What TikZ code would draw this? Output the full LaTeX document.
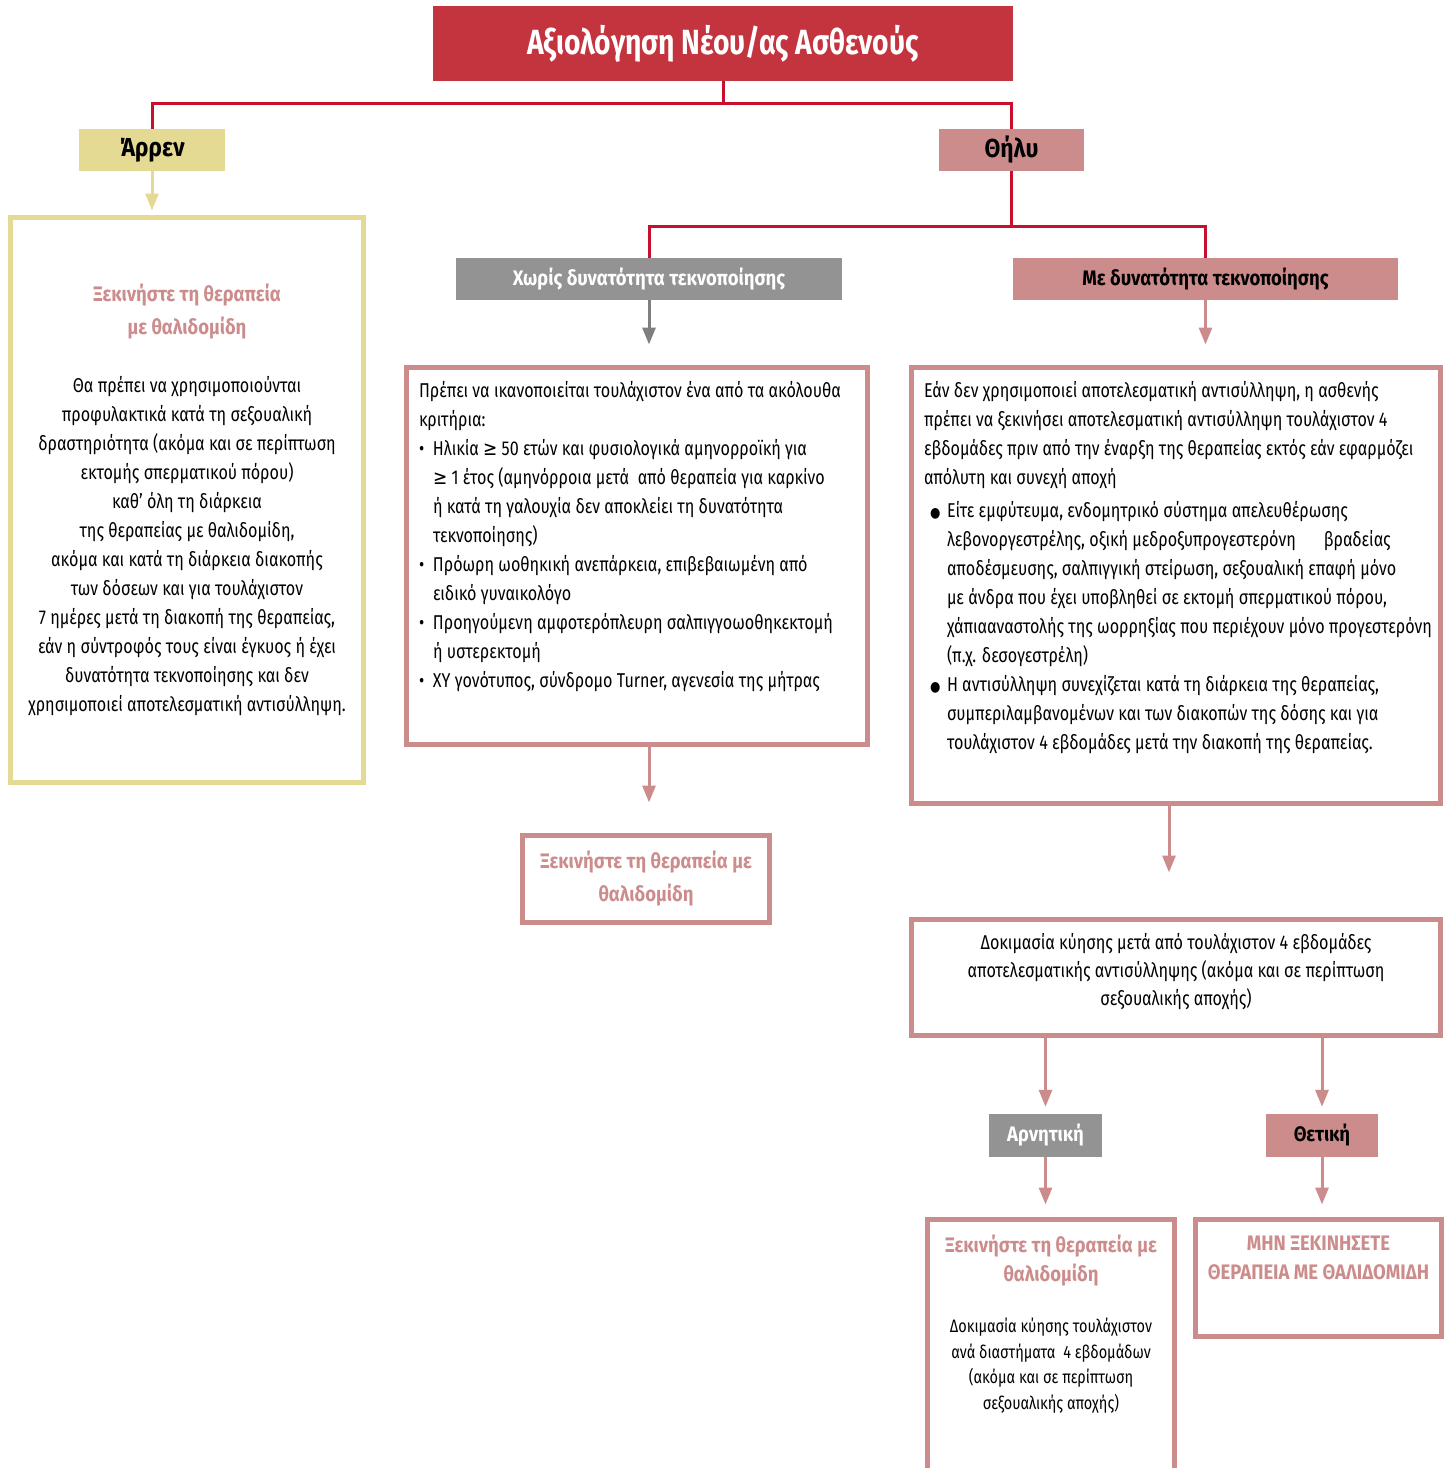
\documentclass[tikz,border=0pt]{standalone}
\usepackage{fontspec}
\setmainfont{Fira Sans}[FakeStretch=0.806]
\newfontfamily\boldwide{Fira Sans}[FakeStretch=0.88]
\newfontfamily\symfont{DejaVu Sans}[FakeStretch=0.85]
\usetikzlibrary{arrows.meta}
\definecolor{titlered}{HTML}{C4343F}
\definecolor{linkred}{HTML}{C8102E}
\definecolor{khaki}{HTML}{E4DA94}
\definecolor{rose}{HTML}{CD8C8C}
\definecolor{midgray}{HTML}{939393}
\definecolor{arrgray}{HTML}{7F7F7F}
\newcommand{\bodyfont}{\fontsize{20}{29}\selectfont}
\newcommand{\smallbody}{\fontsize{18}{25.5}\selectfont}
\newcommand{\headfont}{\color{rose}\boldwide\bfseries\fontsize{21}{33}\selectfont}
\tikzset{
  bar/.style={inner sep=0pt, minimum height=42pt, font=\boldwide\bfseries\fontsize{21}{26}\selectfont},
  frame/.style={draw=rose, line width=5pt, inner sep=0pt},
  link/.style={draw=linkred, line width=3pt},
  arr/.style={line width=3pt, -{Triangle[width=13pt,length=17pt]}}
}
\begin{document}
\begin{tikzpicture}[x=1pt,y=-1pt]
\useasboundingbox (0,0) rectangle (1452,1468);
\node[bar, fill=titlered, text=white, minimum width=580pt, minimum height=75pt, font=\bfseries\fontsize{35}{40}\selectfont] (title) at (723,43.5) {Αξιολόγηση Νέου/ας Ασθενούς};
\node[bar, fill=khaki, minimum width=146pt, font=\boldwide\bfseries\fontsize{26}{30}\selectfont] (male) at (152,150) {Άρρεν};
\node[bar, fill=rose, minimum width=145pt, font=\boldwide\bfseries\fontsize{26}{30}\selectfont] (female) at (1011.5,150) {Θήλυ};
\node[bar, fill=midgray, text=white, minimum width=386pt] (nofert) at (649,279) {Χωρίς δυνατότητα τεκνοποίησης};
\node[bar, fill=rose, minimum width=385pt] (fert) at (1205.5,279) {Με δυνατότητα τεκνοποίησης};
\node[frame, draw=khaki, minimum width=353pt, minimum height=565pt] (malebox) at (187,500) {\begin{minipage}{345pt}\centering
{\headfont Ξεκινήστε τη θεραπεία\\με θαλιδομίδη\par}\vspace{29pt}
{\bodyfont Θα πρέπει να χρησιμοποιούνται\\
προφυλακτικά κατά τη σεξουαλική\\
δραστηριότητα (ακόμα και σε περίπτωση\\
εκτομής σπερματικού πόρου)\\
καθ’ όλη τη διάρκεια\\
της θεραπείας με θαλιδομίδη,\\
ακόμα και κατά τη διάρκεια διακοπής\\
των δόσεων και για τουλάχιστον\\
7 ημέρες μετά τη διακοπή της θεραπείας,\\
εάν η σύντροφός τους είναι έγκυος ή έχει\\
δυνατότητα τεκνοποίησης και δεν\\
χρησιμοποιεί αποτελεσματική αντισύλληψη.\par}
\end{minipage}};
\node[frame, minimum width=461pt, minimum height=377pt] (crit) at (637,556) {\parbox[c][350pt][t]{436pt}{\bodyfont\raggedright
Πρέπει να ικανοποιείται τουλάχιστον ένα από τα ακόλουθα\\
κριτήρια:\\
\makebox[14pt][l]{•}Ηλικία {\symfont ≥} 50 ετών και φυσιολογικά αμηνορροϊκή για\\
\hspace*{14pt}{\symfont ≥} 1 έτος (αμηνόρροια μετά\ \ από θεραπεία για καρκίνο\\
\hspace*{14pt}ή κατά τη γαλουχία δεν αποκλείει τη δυνατότητα\\
\hspace*{14pt}τεκνοποίησης)\\
\makebox[14pt][l]{•}Πρόωρη ωοθηκική ανεπάρκεια, επιβεβαιωμένη από\\
\hspace*{14pt}ειδικό γυναικολόγο\\
\makebox[14pt][l]{•}Προηγούμενη αμφοτερόπλευρη σαλπιγγοωοθηκεκτομή\\
\hspace*{14pt}ή υστερεκτομή\\
\makebox[14pt][l]{•}XY γονότυπος, σύνδρομο Turner, αγενεσία της μήτρας}};
\node[frame, minimum width=529pt, minimum height=436pt] (contra) at (1176,585.5) {\parbox[c][409pt][t]{504pt}{\bodyfont\raggedright
Εάν δεν χρησιμοποιεί αποτελεσματική αντισύλληψη, η ασθενής\\
πρέπει να ξεκινήσει αποτελεσματική αντισύλληψη τουλάχιστον 4\\
εβδομάδες πριν από την έναρξη της θεραπείας εκτός εάν εφαρμόζει\\
απόλυτη και συνεχή αποχή\par\vspace{4pt}
\hspace*{6pt}\makebox[17pt][l]{\symfont\fontsize{14}{29}\selectfont ●}Είτε εμφύτευμα, ενδομητρικό σύστημα απελευθέρωσης\\
\hspace*{23pt}λεβονοργεστρέλης, οξική μεδροξυπρογεστερόνη\hspace{28pt}βραδείας\\
\hspace*{23pt}αποδέσμευσης, σαλπιγγική στείρωση, σεξουαλική επαφή μόνο\\
\hspace*{23pt}με άνδρα που έχει υποβληθεί σε εκτομή σπερματικού πόρου,\\
\hspace*{23pt}\makebox[481pt][l]{χάπιααναστολής της ωορρηξίας που περιέχουν μόνο προγεστερόνη}\\
\hspace*{23pt}(π.χ. δεσογεστρέλη)\\
\hspace*{6pt}\makebox[17pt][l]{\symfont\fontsize{14}{29}\selectfont ●}Η αντισύλληψη συνεχίζεται κατά τη διάρκεια της θεραπείας,\\
\hspace*{23pt}συμπεριλαμβανομένων και των διακοπών της δόσης και για\\
\hspace*{23pt}τουλάχιστον 4 εβδομάδες μετά την διακοπή της θεραπείας.}};
\node[frame, minimum width=247pt, minimum height=87pt, align=center, font=\headfont] (starta) at (646,879) {Ξεκινήστε τη θεραπεία με\\θαλιδομίδη};
\node[frame, minimum width=529pt, minimum height=116pt] (test) at (1176,977.5) {\begin{minipage}{515pt}\centering\fontsize{20}{28}\selectfont
Δοκιμασία κύησης μετά από τουλάχιστον 4 εβδομάδες\\
αποτελεσματικής αντισύλληψης (ακόμα και σε περίπτωση\\
σεξουαλικής αποχής)\par\vspace{12pt}
\end{minipage}};
\node[bar, fill=midgray, text=white, minimum width=113pt, minimum height=43pt] (neg) at (1045.5,1135.5) {Αρνητική};
\node[bar, fill=rose, minimum width=112pt, minimum height=43pt] (pos) at (1322,1135.5) {Θετική};
\node[frame, minimum width=247pt, minimum height=270.5pt] (startb) at (1051,1354.75) {\parbox[c][239.5pt][t]{238pt}{\centering
{\color{rose}\boldwide\bfseries\fontsize{21}{29}\selectfont Ξεκινήστε τη θεραπεία με\\θαλιδομίδη\par}\vspace{25.5pt}
{\smallbody Δοκιμασία κύησης τουλάχιστον\\
ανά διαστήματα\ \ 4 εβδομάδων\\
(ακόμα και σε περίπτωση\\
σεξουαλικής αποχής)\par}}};
\node[frame, minimum width=246pt, minimum height=117pt] (stop) at (1318.5,1278) {\parbox[c][84pt][t]{238pt}{\centering
\color{rose}\boldwide\bfseries\fontsize{21}{29}\selectfont ΜΗΝ ΞΕΚΙΝΗΣΕΤΕ\\ΘΕΡΑΠΕΙΑ ΜΕ ΘΑΛΙΔΟΜΙΔΗ}};
\draw[link] (title.south) -- ++(0,22) -| (male.north);
\draw[link] (title.south) -- ++(0,22) -| (female.north);
\draw[link] (female.south) -- ++(0,55) -| (nofert.north);
\draw[link] (female.south) -- ++(0,55) -| (fert.north);
\draw[arr, draw=khaki, fill=khaki, shorten >=4.5pt] (male.south) -- (male.south |- malebox.north);
\draw[arr, draw=arrgray, fill=arrgray, shorten >=20.5pt] (nofert.south) -- (nofert.south |- crit.north);
\draw[arr, draw=rose, fill=rose, shorten >=20.5pt] (fert.south) -- (fert.south |- contra.north);
\draw[arr, draw=rose, fill=rose, shorten >=30.5pt] (nofert.south |- crit.south) -- (nofert.south |- starta.north);
\draw[arr, draw=rose, fill=rose, shorten >=44.5pt] ([xshift=-7pt]contra.south) -- ([xshift=-7pt]test.north);
\draw[arr, draw=rose, fill=rose, shorten >=7pt] (neg.north |- test.south) -- (neg.north);
\draw[arr, draw=rose, fill=rose, shorten >=7pt] (pos.north |- test.south) -- (pos.north);
\draw[arr, draw=rose, fill=rose, shorten >=12.5pt] (neg.south) -- (neg.south |- startb.north);
\draw[arr, draw=rose, fill=rose, shorten >=12.5pt] (pos.south) -- (pos.south |- stop.north);
\end{tikzpicture}
\end{document}
